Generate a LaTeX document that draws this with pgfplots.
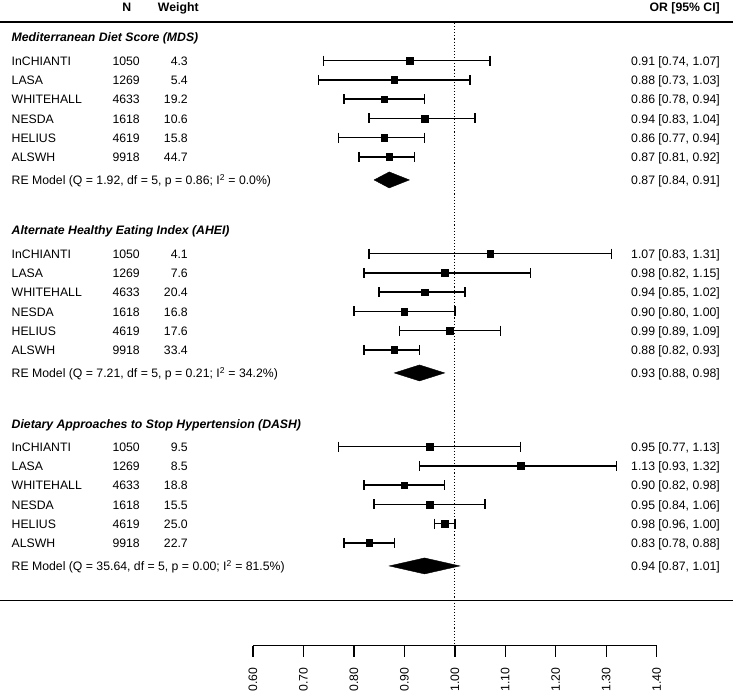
\documentclass[border=0pt]{standalone}
\usepackage{fontspec}
\setmainfont{Liberation Sans}
\usepackage{pgfplots}
\usepackage{pgfplotstable}
\pgfplotsset{compat=1.18}

% y = row centre in pixels (negative, downward), est/lo/hi = OR [95% CI]
\pgfplotstableread{
y       est  lo   hi
-60.70  0.91 0.74 1.07
-79.95  0.88 0.73 1.03
-99.20  0.86 0.78 0.94
-118.45 0.94 0.83 1.04
-137.70 0.86 0.77 0.94
-156.95 0.87 0.81 0.92
}\mds
\pgfplotstableread{
y       est  lo   hi
-253.70 1.07 0.83 1.31
-272.95 0.98 0.82 1.15
-292.20 0.94 0.85 1.02
-311.45 0.90 0.80 1.00
-330.70 0.99 0.89 1.09
-349.95 0.88 0.82 0.93
}\ahei
\pgfplotstableread{
y       est  lo   hi
-446.70 0.95 0.77 1.13
-465.95 1.13 0.93 1.32
-485.20 0.90 0.82 0.98
-504.45 0.95 0.84 1.06
-523.70 0.98 0.96 1.00
-542.95 0.83 0.78 0.88
}\dash

\newcommand\forestblock[1]{%
  \addplot[draw=none, mark=none, error bars/.cd, x dir=both, x explicit,
    error mark=none, error bar style={draw=black, line width=1.4bp}]
    table[x=est, y=y, x error minus expr=\thisrow{est}-\thisrow{lo},
          x error plus expr=\thisrow{hi}-\thisrow{est}] {#1};
  \addplot[only marks, mark=|, mark size=5bp, mark options={draw=black, line width=1.4bp}]
    table[x=lo, y=y] {#1};
  \addplot[only marks, mark=|, mark size=5bp, mark options={draw=black, line width=1.4bp}]
    table[x=hi, y=y] {#1};
  \addplot[only marks, mark=square*, mark size=3.3bp,
    mark options={fill=black, draw=black, line width=0.4bp}]
    table[x=est, y=y] {#1};
}

% text helpers, pixel positions from the top-left corner
\newcommand\yy[1]{{(692-(#1))*1bp}}
\newcommand\studyrow[5]{%
  \node[anchor=base west] at (11.5bp,\yy{#1+4.7}) {#2};
  \node[anchor=base east] at (140bp,\yy{#1+4.7}) {#3};
  \node[anchor=base east] at (188bp,\yy{#1+4.7}) {#4};
  \node[anchor=base east] at (720bp,\yy{#1+4.7}) {#5};
}

\begin{document}
\begin{tikzpicture}[every node/.style={font=\fontsize{12.3}{14}\selectfont, inner sep=0pt}]
\begin{axis}[at={(0,0)}, anchor=south west, scale only axis,
  width=733bp, height=692bp, hide axis, clip=false,
  xmin=0.09869, xmax=1.5513, ymin=-692, ymax=0]

\draw[line width=1.1bp, dash pattern=on 1.1bp off 2bp] (axis cs:1,-23) -- (axis cs:1,-645.7);

\forestblock{\mds}
\forestblock{\ahei}
\forestblock{\dash}

% summary diamonds
\addplot[fill=black, draw=black, line width=0.4bp] coordinates
  {(0.84,-179.95) (0.87,-171.95) (0.91,-179.95) (0.87,-187.95)} -- cycle;
\addplot[fill=black, draw=black, line width=0.4bp] coordinates
  {(0.88,-372.95) (0.93,-364.95) (0.98,-372.95) (0.93,-380.95)} -- cycle;
\addplot[fill=black, draw=black, line width=0.4bp] coordinates
  {(0.87,-565.95) (0.94,-557.95) (1.01,-565.95) (0.94,-573.95)} -- cycle;

% bottom axis
\draw[line width=1.4bp] (axis cs:0.6,-645.7) -- (axis cs:1.4,-645.7);
\pgfplotsinvokeforeach{0.60,0.70,0.80,0.90,1.00,1.10,1.20,1.30,1.40}{
  \draw[line width=1.4bp] (axis cs:#1,-645.7) -- (axis cs:#1,-657);
  \node[rotate=90, anchor=east] at (axis cs:#1,-667.3) {#1};
}
\end{axis}

% rules
\draw[line width=1.5bp] (0,\yy{22}) -- (733bp,\yy{22});
\draw[line width=1.5bp] (0,\yy{600.7}) -- (733bp,\yy{600.7});

% header
\node[anchor=base] at (126.7bp,\yy{12}) {\textbf{N}};
\node[anchor=base] at (178.3bp,\yy{12}) {\textbf{Weight}};
\node[anchor=base east] at (720bp,\yy{12}) {\textbf{OR [95\% CI]}};

% MDS
\node[anchor=base west] at (11.5bp,\yy{41.7}) {\textbf{\textit{Mediterranean Diet Score (MDS)}}};
\studyrow{60.70}{InCHIANTI}{1050}{4.3}{0.91 [0.74, 1.07]}
\studyrow{79.95}{LASA}{1269}{5.4}{0.88 [0.73, 1.03]}
\studyrow{99.20}{WHITEHALL}{4633}{19.2}{0.86 [0.78, 0.94]}
\studyrow{118.45}{NESDA}{1618}{10.6}{0.94 [0.83, 1.04]}
\studyrow{137.70}{HELIUS}{4619}{15.8}{0.86 [0.77, 0.94]}
\studyrow{156.95}{ALSWH}{9918}{44.7}{0.87 [0.81, 0.92]}
\node[anchor=base west] at (11.5bp,\yy{184.4}) {RE Model (Q = 1.92, df = 5, p = 0.86; I\textsuperscript{2} = 0.0\%)};
\node[anchor=base east] at (720bp,\yy{184.4}) {0.87 [0.84, 0.91]};

% AHEI
\node[anchor=base west] at (11.5bp,\yy{235}) {\textbf{\textit{Alternate Healthy Eating Index (AHEI)}}};
\studyrow{253.70}{InCHIANTI}{1050}{4.1}{1.07 [0.83, 1.31]}
\studyrow{272.95}{LASA}{1269}{7.6}{0.98 [0.82, 1.15]}
\studyrow{292.20}{WHITEHALL}{4633}{20.4}{0.94 [0.85, 1.02]}
\studyrow{311.45}{NESDA}{1618}{16.8}{0.90 [0.80, 1.00]}
\studyrow{330.70}{HELIUS}{4619}{17.6}{0.99 [0.89, 1.09]}
\studyrow{349.95}{ALSWH}{9918}{33.4}{0.88 [0.82, 0.93]}
\node[anchor=base west] at (11.5bp,\yy{377.4}) {RE Model (Q = 7.21, df = 5, p = 0.21; I\textsuperscript{2} = 34.2\%)};
\node[anchor=base east] at (720bp,\yy{377.4}) {0.93 [0.88, 0.98]};

% DASH
\node[anchor=base west] at (11.5bp,\yy{428.3}) {\textbf{\textit{Dietary Approaches to Stop Hypertension (DASH)}}};
\studyrow{446.70}{InCHIANTI}{1050}{9.5}{0.95 [0.77, 1.13]}
\studyrow{465.95}{LASA}{1269}{8.5}{1.13 [0.93, 1.32]}
\studyrow{485.20}{WHITEHALL}{4633}{18.8}{0.90 [0.82, 0.98]}
\studyrow{504.45}{NESDA}{1618}{15.5}{0.95 [0.84, 1.06]}
\studyrow{523.70}{HELIUS}{4619}{25.0}{0.98 [0.96, 1.00]}
\studyrow{542.95}{ALSWH}{9918}{22.7}{0.83 [0.78, 0.88]}
\node[anchor=base west] at (11.5bp,\yy{570.4}) {RE Model (Q = 35.64, df = 5, p = 0.00; I\textsuperscript{2} = 81.5\%)};
\node[anchor=base east] at (720bp,\yy{570.4}) {0.94 [0.87, 1.01]};

\pgfresetboundingbox
\path (0,0) rectangle (733bp,692bp);
\end{tikzpicture}
\end{document}
